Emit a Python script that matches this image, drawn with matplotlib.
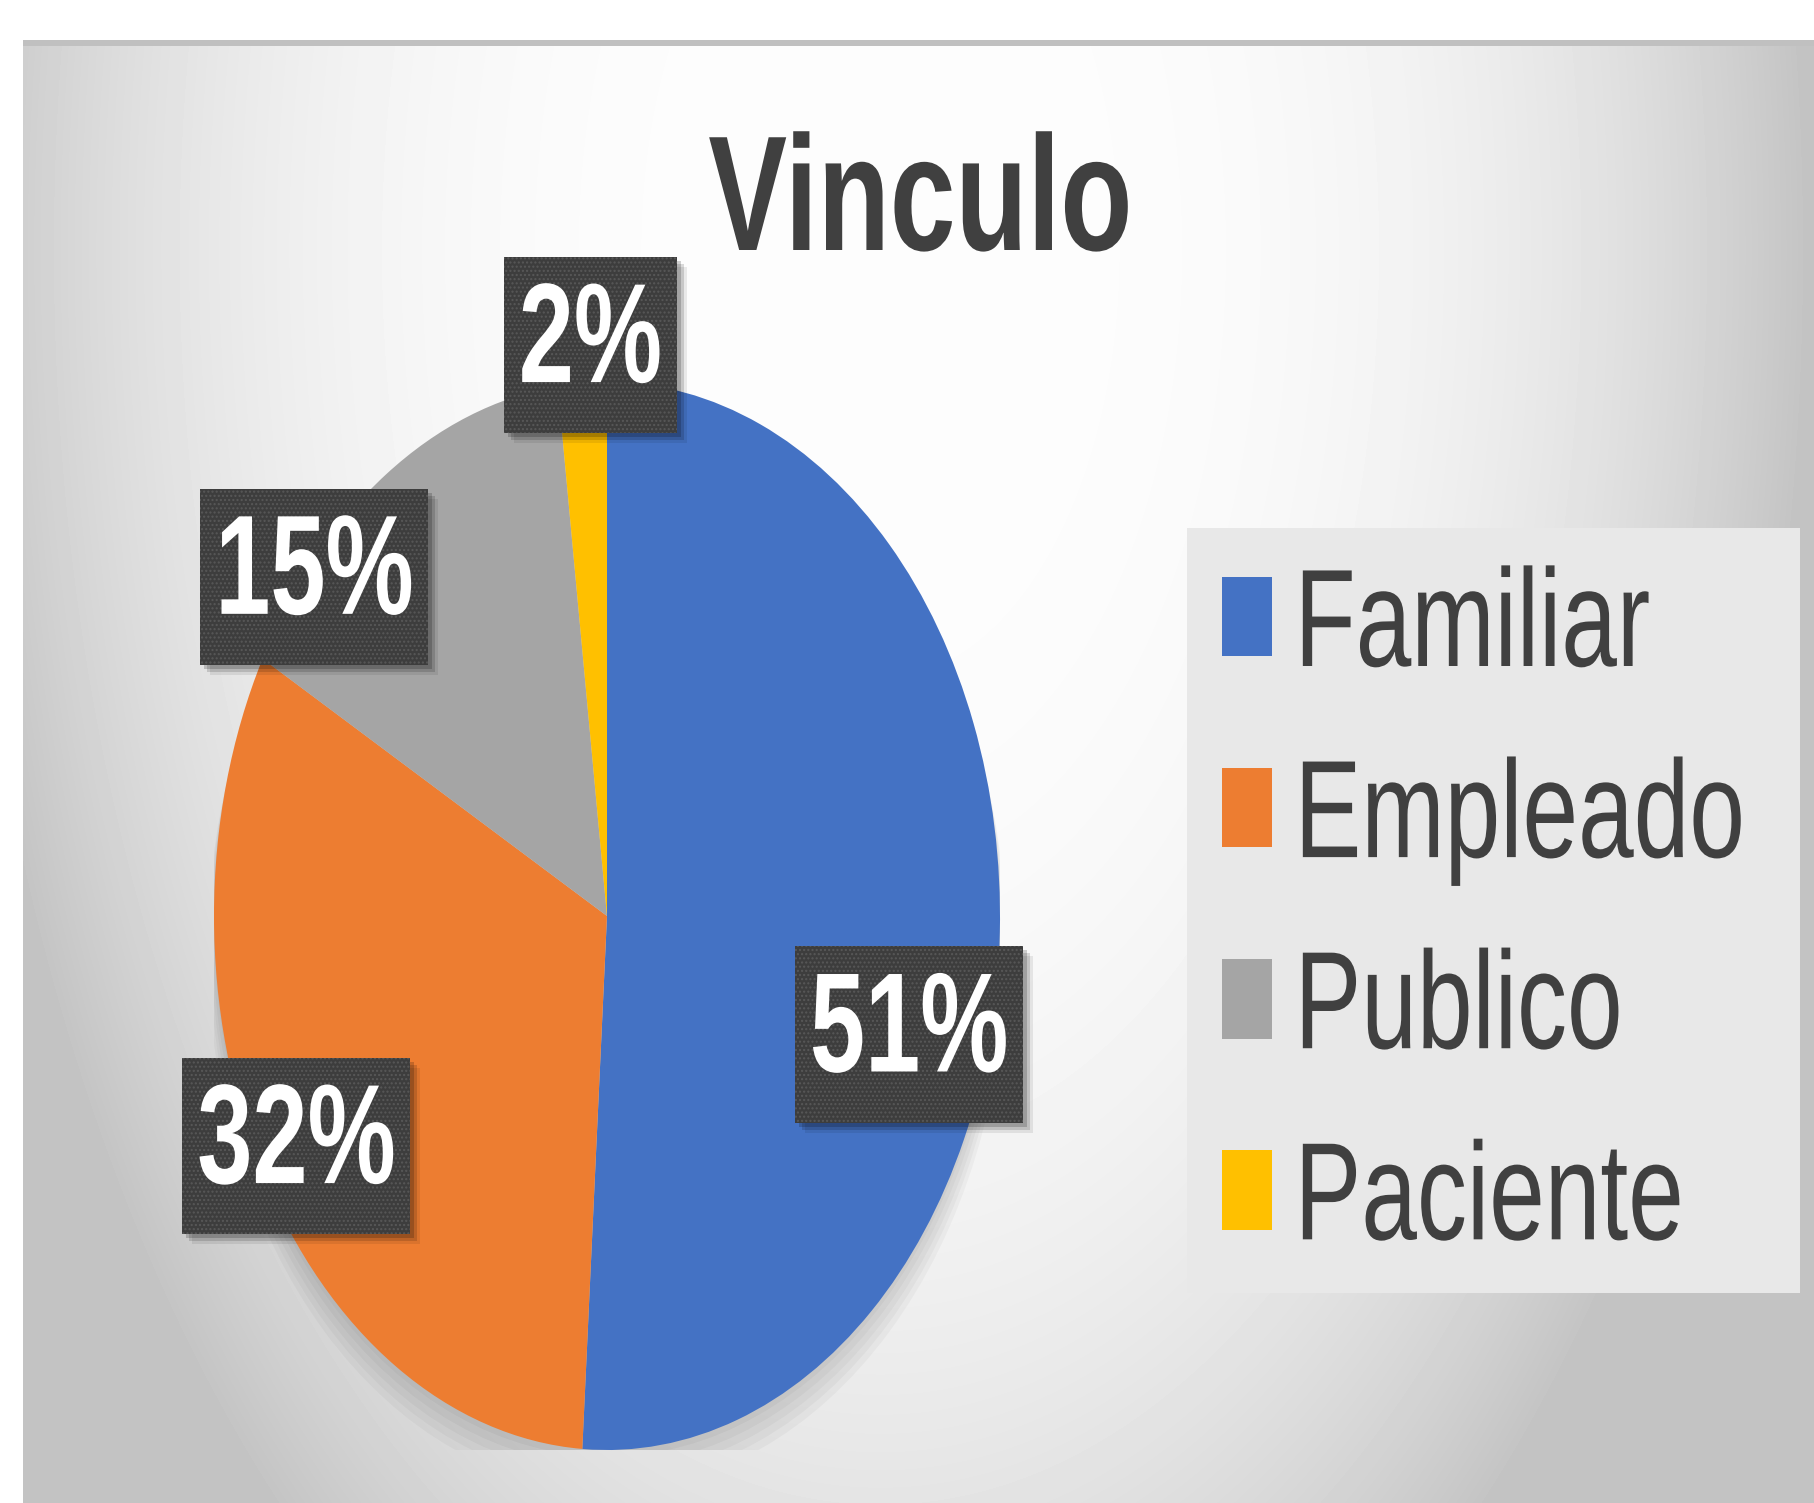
import numpy as np
import matplotlib
matplotlib.use("Agg")
import matplotlib.pyplot as plt
from matplotlib import patheffects
from matplotlib.patches import Rectangle, Ellipse
from matplotlib.transforms import Affine2D

# data
categories = ["Familiar", "Empleado", "Publico", "Paciente"]
values = [51, 32, 15, 2]
colors = ["#4472C4", "#ED7D31", "#A5A5A5", "#FFC000"]
title = "Vinculo"

# label placement: (radius, angle nudge in degrees) per slice
label_place = [(0.80, -14.3), (0.90, -0.2), (0.98, 15.4), (1.07, -1.3)]

W, H = 1814, 1503
plt.rcParams['font.family'] = ['Liberation Sans', 'DejaVu Sans']


class Squeeze(patheffects.AbstractPathEffect):
    """Draw a path squeezed horizontally (the source image is stretched)."""

    def __init__(self, sx=0.72, anchor='center', shadow=False):
        super().__init__()
        self.sx = sx
        self.anchor = anchor
        self.shadow = shadow

    def draw_path(self, renderer, gc, tpath, affine, rgbFace=None):
        ext = tpath.get_extents(affine)
        x0 = ext.x0 if self.anchor == 'left' else (ext.x0 + ext.x1) / 2
        sq = affine + Affine2D().translate(-x0, 0).scale(self.sx, 1).translate(x0, 0)
        if self.shadow:
            for k, a in [(4, 0.18), (7, 0.14), (10, 0.08)]:
                gc0 = renderer.new_gc()
                gc0.copy_properties(gc)
                gc0.set_alpha(a)
                gc0.set_linewidth(0)
                gc0.set_hatch(None)
                renderer.draw_path(gc0, tpath, sq + Affine2D().translate(k, -k), (0, 0, 0))
                gc0.restore()
        renderer.draw_path(gc, tpath, sq, rgbFace)


fig = plt.figure(figsize=(W / 100, H / 100), dpi=100)

# background panel with soft radial gradient
bg = fig.add_axes([0, 0, 1, 1])
yy, xx = np.mgrid[0:H, 0:W]
d = np.sqrt(((xx - 880) / 950.0) ** 2 + ((yy - 250) / 1700.0) ** 2)
grad = np.clip(253 - 62 * d ** 3, 196, 255)
grad[(yy >= 40) & (yy < 46)] = 192
grad[(xx < 23) | (yy < 40)] = 255
bg.imshow(grad, cmap='gray', vmin=0, vmax=255, extent=(0, 1, 0, 1),
          aspect='auto', interpolation='bilinear')
bg.add_patch(Rectangle((1187 / W, 1 - 1293 / H), (1800 - 1187) / W, (1293 - 528) / H,
                       transform=bg.transAxes, facecolor='#e8e8e8', edgecolor='none'))
bg.set_xlim(0, 1)
bg.set_ylim(0, 1)
bg.axis('off')

# pie (elliptical, like the stretched original)
ax = fig.add_axes([214 / W, 1 - 1450 / H, 786 / W, 1068 / H])
for i in range(5):
    s = 1 + 0.004 * i
    ax.add_patch(Ellipse((0.0, -0.012 * (i + 1)), 2 * s, 2 * s, facecolor='black',
                         alpha=0.03, edgecolor='none', zorder=0))
wedges, _ = ax.pie(values, colors=colors, startangle=90, counterclock=False,
                   radius=1, wedgeprops=dict(linewidth=0))
for w in wedges:
    w.set_zorder(2)
ax.set_aspect('auto')
ax.set_xlim(-1, 1)
ax.set_ylim(-1, 1)
ax.axis('off')

for w, v, (r, nudge) in zip(wedges, values, label_place):
    ang = np.deg2rad((w.theta1 + w.theta2) / 2 + nudge)
    t = ax.text(r * np.cos(ang), r * np.sin(ang), f"{v}%", ha='center', va='center',
                fontsize=102, fontweight='bold', color='white', zorder=5,
                bbox=dict(boxstyle='square,pad=0.15', facecolor='#3d3d3d',
                          edgecolor='#585858', linewidth=0, hatch='....'))
    t.set_path_effects([Squeeze(0.70)])
    t.get_bbox_patch().set_path_effects([Squeeze(0.70, shadow=True)])

# title
tt = fig.text(921 / W, 1 - 250 / H, title, ha='center', va='baseline',
              fontsize=118, fontweight='bold', color='#404040')
tt.set_path_effects([Squeeze(0.72)])

# legend
leg = fig.legend(wedges, categories, loc='upper left',
                 bbox_to_anchor=(1222 / W, 1 - 565 / H), frameon=False,
                 fontsize=100, handlelength=0.36, handleheight=0.5,
                 handletextpad=0.14, labelspacing=0.44, borderpad=0,
                 borderaxespad=0, labelcolor='#404040')
for t in leg.get_texts():
    t.set_path_effects([Squeeze(0.72, anchor='left')])

fig.savefig("out.png", dpi=100)
